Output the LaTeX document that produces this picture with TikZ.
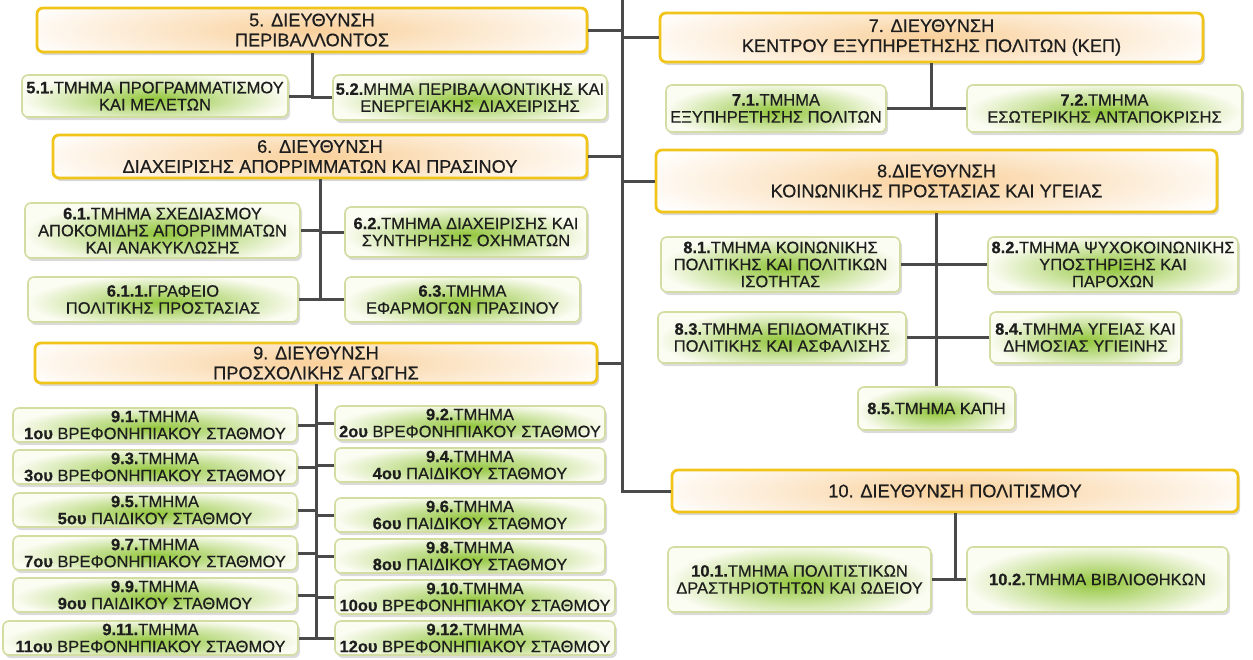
\documentclass[tikz,border=0pt]{standalone}
\usepackage{fontspec}
\setmainfont{Liberation Sans}
\newfontfamily\heavyfont{Liberation Sans}[FakeBold=0.5]
\usepackage{xcolor}
\definecolor{dirgold}{HTML}{F0C419}
\definecolor{dirglow}{HTML}{F9D09A}
\definecolor{deptrim}{HTML}{D3DDA2}
\definecolor{deptglow}{HTML}{92C63B}
\definecolor{deptfill}{HTML}{FBFCF2}
\definecolor{linkgray}{HTML}{4A4A4A}
\definecolor{inkgray}{HTML}{1E1E1E}
\usepackage{tikz}
\usetikzlibrary{shadows}

\begin{document}
\begin{tikzpicture}[
        x=1pt, y=-1pt,
        wh/.style 2 args={minimum width=#1pt, minimum height=#2pt},
        dirbox/.style={rectangle, rounded corners=6pt, draw=dirgold, line width=2.8pt, fill=white,
            text=inkgray, align=center, inner sep=2pt, font=\heavyfont\fontsize{18.2}{20}\selectfont,
            drop shadow={shadow xshift=2pt, shadow yshift=-3pt, fill=black!30},
            path picture={\shade[inner color=dirglow, outer color=white]
                ([xshift=-40pt,yshift=-22pt]path picture bounding box.south west) rectangle
                ([xshift=40pt,yshift=22pt]path picture bounding box.north east);}},
        deptbox/.style={rectangle, rounded corners=6pt, draw=deptrim, line width=1.6pt, fill=deptfill,
            text=inkgray, align=center, inner sep=2pt, font=\heavyfont\fontsize{16.5}{17}\selectfont,
            drop shadow={shadow xshift=2pt, shadow yshift=-3pt, fill=black!28},
            path picture={\shade[inner color=deptglow, outer color=deptfill]
                ([yshift=-8pt]path picture bounding box.south west) rectangle
                ([yshift=2pt]path picture bounding box.north east);}},
        link/.style={draw=linkgray, line width=3pt}
    ]
        \useasboundingbox (0,0) rectangle (1253,659);
        \coordinate (top) at (622,0);

        % directorates
        \node[dirbox, wh={550}{44}] (d5) at (312,30) {5. ΔΙΕΥΘΥΝΣΗ\\ΠΕΡΙΒΑΛΛΟΝΤΟΣ};
        \node[dirbox, wh={534}{43}] (d6) at (320,156.5) {6. ΔΙΕΥΘΥΝΣΗ\\ΔΙΑΧΕΙΡΙΣΗΣ ΑΠΟΡΡΙΜΜΑΤΩΝ ΚΑΙ ΠΡΑΣΙΝΟΥ};
        \node[dirbox, wh={543}{49}] (d7) at (931.5,37.5) {7. ΔΙΕΥΘΥΝΣΗ\\ΚΕΝΤΡΟΥ ΕΞΥΠΗΡΕΤΗΣΗΣ ΠΟΛΙΤΩΝ (ΚΕΠ)};
        \node[dirbox, wh={561}{62}] (d8) at (936.5,181) {8.ΔΙΕΥΘΥΝΣΗ\\ΚΟΙΝΩΝΙΚΗΣ ΠΡΟΣΤΑΣΙΑΣ ΚΑΙ ΥΓΕΙΑΣ};
        \node[dirbox, wh={562}{40}] (d9) at (316,363) {9. ΔΙΕΥΘΥΝΣΗ\\ΠΡΟΣΧΟΛΙΚΗΣ ΑΓΩΓΗΣ};
        \node[dirbox, wh={566}{42}] (d10) at (955,491) {10. ΔΙΕΥΘΥΝΣΗ ΠΟΛΙΤΙΣΜΟΥ};

        % departments
        \node[deptbox, wh={266}{42}] (s51) at (155,96) {\textbf{5.1.}ΤΜΗΜΑ ΠΡΟΓΡΑΜΜΑΤΙΣΜΟΥ\\ΚΑΙ ΜΕΛΕΤΩΝ};
        \node[deptbox, wh={274}{45}] (s52) at (470,97.5) {\textbf{5.2.}ΜΗΜΑ ΠΕΡΙΒΑΛΛΟΝΤΙΚΗΣ ΚΑΙ\\ΕΝΕΡΓΕΙΑΚΗΣ ΔΙΑΧΕΙΡΙΣΗΣ};
        \node[deptbox, wh={275}{55}] (s61) at (162.5,230.5) {\textbf{6.1.}ΤΜΗΜΑ ΣΧΕΔΙΑΣΜΟΥ\\ΑΠΟΚΟΜΙΔΗΣ ΑΠΟΡΡΙΜΜΑΤΩΝ\\ΚΑΙ ΑΝΑΚΥΚΛΩΣΗΣ};
        \node[deptbox, wh={270}{45}] (s611) at (163,299.5) {\textbf{6.1.1.}ΓΡΑΦΕΙΟ\\ΠΟΛΙΤΙΚΗΣ ΠΡΟΣΤΑΣΙΑΣ};
        \node[deptbox, wh={242}{50}] (s62) at (466,232) {\textbf{6.2.}ΤΜΗΜΑ ΔΙΑΧΕΙΡΙΣΗΣ ΚΑΙ\\ΣΥΝΤΗΡΗΣΗΣ ΟΧΗΜΑΤΩΝ};
        \node[deptbox, wh={235}{45}] (s63) at (462.5,299.5) {\textbf{6.3.}ΤΜΗΜΑ\\ΕΦΑΡΜΟΓΩΝ ΠΡΑΣΙΝΟΥ};
        \node[deptbox, wh={220}{47}] (s71) at (776,108.5) {\textbf{7.1.}ΤΜΗΜΑ\\ΕΞΥΠΗΡΕΤΗΣΗΣ ΠΟΛΙΤΩΝ};
        \node[deptbox, wh={275}{47}] (s72) at (1104.5,108.5) {\textbf{7.2.}ΤΜΗΜΑ\\ΕΣΩΤΕΡΙΚΗΣ ΑΝΤΑΠΟΚΡΙΣΗΣ};
        \node[deptbox, wh={239}{55}] (s81) at (780.5,264.5) {\textbf{8.1.}ΤΜΗΜΑ ΚΟΙΝΩΝΙΚΗΣ\\ΠΟΛΙΤΙΚΗΣ ΚΑΙ ΠΟΛΙΤΙΚΩΝ\\ΙΣΟΤΗΤΑΣ};
        \node[deptbox, wh={250}{55}] (s82) at (1113,264.5) {\textbf{8.2.}ΤΜΗΜΑ ΨΥΧΟΚΟΙΝΩΝΙΚΗΣ\\ΥΠΟΣΤΗΡΙΞΗΣ ΚΑΙ\\ΠΑΡΟΧΩΝ};
        \node[deptbox, wh={248}{51}] (s83) at (782,337.5) {\textbf{8.3.}ΤΜΗΜΑ ΕΠΙΔΟΜΑΤΙΚΗΣ\\ΠΟΛΙΤΙΚΗΣ ΚΑΙ ΑΣΦΑΛΙΣΗΣ};
        \node[deptbox, wh={191}{51}] (s84) at (1085.5,337.5) {\textbf{8.4.}ΤΜΗΜΑ ΥΓΕΙΑΣ ΚΑΙ\\ΔΗΜΟΣΙΑΣ ΥΓΙΕΙΝΗΣ};
        \node[deptbox, wh={157}{43}] (s85) at (936.5,408.5) {\textbf{8.5.}ΤΜΗΜΑ ΚΑΠΗ};
        \node[deptbox, wh={263}{65}] (s101) at (799.5,579.5) {\textbf{10.1.}ΤΜΗΜΑ ΠΟΛΙΤΙΣΤΙΚΩΝ\\ΔΡΑΣΤΗΡΙΟΤΗΤΩΝ ΚΑΙ ΩΔΕΙΟΥ};
        \node[deptbox, wh={261}{65}] (s102) at (1097.5,579.5) {\textbf{10.2.}ΤΜΗΜΑ ΒΙΒΛΙΟΘΗΚΩΝ};

        % nursery departments
        \node[deptbox, wh={284}{34}] (s91) at (155,425) {\textbf{9.1.}ΤΜΗΜΑ\\\textbf{1ου} ΒΡΕΦΟΝΗΠΙΑΚΟΥ ΣΤΑΘΜΟΥ};
        \node[deptbox, wh={284}{34}] (s93) at (155,467) {\textbf{9.3.}ΤΜΗΜΑ\\\textbf{3ου} ΒΡΕΦΟΝΗΠΙΑΚΟΥ ΣΤΑΘΜΟΥ};
        \node[deptbox, wh={284}{34}] (s95) at (155,510) {\textbf{9.5.}ΤΜΗΜΑ\\\textbf{5ου} ΠΑΙΔΙΚΟΥ ΣΤΑΘΜΟΥ};
        \node[deptbox, wh={284}{34}] (s97) at (155,553) {\textbf{9.7.}ΤΜΗΜΑ\\\textbf{7ου} ΒΡΕΦΟΝΗΠΙΑΚΟΥ ΣΤΑΘΜΟΥ};
        \node[deptbox, wh={284}{34}] (s99) at (155,595) {\textbf{9.9.}ΤΜΗΜΑ\\\textbf{9ου} ΠΑΙΔΙΚΟΥ ΣΤΑΘΜΟΥ};
        \node[deptbox, wh={295}{34}] (s911) at (150.5,638) {\textbf{9.11.}ΤΜΗΜΑ\\\textbf{11ου} ΒΡΕΦΟΝΗΠΙΑΚΟΥ ΣΤΑΘΜΟΥ};
        \node[deptbox, wh={270}{34}] (s92) at (470,423) {\textbf{9.2.}ΤΜΗΜΑ\\\textbf{2ου} ΒΡΕΦΟΝΗΠΙΑΚΟΥ ΣΤΑΘΜΟΥ};
        \node[deptbox, wh={270}{34}] (s94) at (470,465) {\textbf{9.4.}ΤΜΗΜΑ\\\textbf{4ου} ΠΑΙΔΙΚΟΥ ΣΤΑΘΜΟΥ};
        \node[deptbox, wh={270}{34}] (s96) at (470,515) {\textbf{9.6.}ΤΜΗΜΑ\\\textbf{6ου} ΠΑΙΔΙΚΟΥ ΣΤΑΘΜΟΥ};
        \node[deptbox, wh={270}{34}] (s98) at (470,556) {\textbf{9.8.}ΤΜΗΜΑ\\\textbf{8ου} ΠΑΙΔΙΚΟΥ ΣΤΑΘΜΟΥ};
        \node[deptbox, wh={280}{34}] (s910) at (475,597) {\textbf{9.10.}ΤΜΗΜΑ\\\textbf{10ου} ΒΡΕΦΟΝΗΠΙΑΚΟΥ ΣΤΑΘΜΟΥ};
        \node[deptbox, wh={280}{34}] (s912) at (475,638) {\textbf{9.12.}ΤΜΗΜΑ\\\textbf{12ου} ΒΡΕΦΟΝΗΠΙΑΚΟΥ ΣΤΑΘΜΟΥ};

        % spine
        \draw[link] (top) |- (d10.west);
        \draw[link] (top |- d5.east) -- (d5.east);
        \draw[link] (top |- d6.east) -- (d6.east);
        \draw[link] (top |- d9.east) -- (d9.east);
        \draw[link] (top |- d7.west) -- (d7.west);
        \draw[link] (top |- d8.west) -- (d8.west);

        % branches
        \draw[link] (d5.south) |- (s51.east);
        \draw[link] (d5.south) |- (s52.west);
        \draw[link] (d6.south) |- (s61.east);
        \draw[link] (d6.south) |- (s62.west);
        \draw[link] (d6.south) |- (s611.east);
        \draw[link] (d6.south) |- (s63.west);
        \draw[link] (d7.south) |- (s71.east);
        \draw[link] (d7.south) |- (s72.west);
        \draw[link] (d8.south) |- (s81.east);
        \draw[link] (d8.south) |- (s82.west);
        \draw[link] (d8.south) |- (s83.east);
        \draw[link] (d8.south) |- (s84.west);
        \draw[link] (d8.south) -- (s85.north);
        \draw[link] (d10.south) |- (s101.east);
        \draw[link] (d10.south) |- (s102.west);
        \draw[link] (d9.south) |- (s91.east);
        \draw[link] (d9.south) |- (s93.east);
        \draw[link] (d9.south) |- (s95.east);
        \draw[link] (d9.south) |- (s97.east);
        \draw[link] (d9.south) |- (s99.east);
        \draw[link] (d9.south) |- (s911.east);
        \draw[link] (d9.south) |- (s92.west);
        \draw[link] (d9.south) |- (s94.west);
        \draw[link] (d9.south) |- (s96.west);
        \draw[link] (d9.south) |- (s98.west);
        \draw[link] (d9.south) |- (s910.west);
        \draw[link] (d9.south) |- (s912.west);
    \end{tikzpicture}
\end{document}
